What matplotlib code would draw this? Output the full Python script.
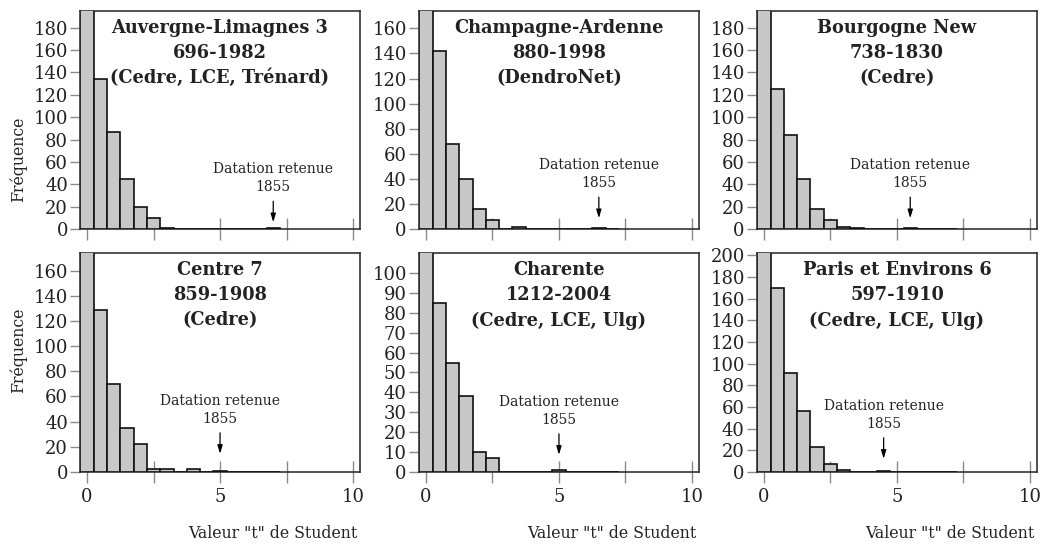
import matplotlib
matplotlib.use("Agg")
import matplotlib.pyplot as plt
from matplotlib.transforms import offset_copy

# bin centres of the "t" histogram (width 0.5)
bins = [0.0, 0.5, 1.0, 1.5, 2.0, 2.5, 3.0, 3.5, 4.0, 4.5, 5.0, 5.5, 6.0, 6.5, 7.0]

titles = [
    "Auvergne-Limagnes 3\n696-1982\n(Cedre, LCE, Trénard)",
    "Champagne-Ardenne\n880-1998\n(DendroNet)",
    "Bourgogne New\n738-1830\n(Cedre)",
    "Centre 7\n859-1908\n(Cedre)",
    "Charente\n1212-2004\n(Cedre, LCE, Ulg)",
    "Paris et Environs 6\n597-1910\n(Cedre, LCE, Ulg)",
]

auvergne = [240, 134, 87, 45, 20, 10, 1, 0, 0, 0, 0, 0, 0, 0, 1]
champagne = [210, 142, 68, 40, 16, 7, 0, 2, 0, 0, 0, 0, 0, 1, 0]
bourgogne = [230, 125, 84, 45, 18, 8, 2, 1, 0, 0, 0, 1, 0, 0, 0]
centre = [200, 129, 70, 35, 22, 2, 2, 0, 2, 0, 1, 0, 0, 0, 0]
charente = [130, 85, 55, 38, 10, 7, 0, 0, 0, 0, 1, 0, 0, 0, 0]
paris = [250, 170, 91, 56, 23, 7, 2, 0, 0, 1, 0, 0, 0, 0, 0]
counts = [auvergne, champagne, bourgogne, centre, charente, paris]

# t value of the retained dating (1855) in each panel
retained_t = [7.0, 6.5, 5.5, 5.0, 5.0, 4.5]
retained_label = "Datation retenue\n1855"

y_max = [195, 174, 195, 174, 110, 202]
y_step = [20, 20, 20, 20, 10, 20]
y_top_tick = [180, 160, 180, 160, 100, 200]

# layout (pixels)
W, H = 1041, 554
col_left = [80.4, 419.3, 757.3]
ax_w = 279.3
row_top = [10.7, 253.3]
ax_h = 218.5
arrow_gap = [7, 11, 11, 18, 17, 13]
ylabel_y = [0.32, 0.557]

plt.rcParams['font.family'] = ['DejaVu Serif']
fig = plt.figure(figsize=(W / 100, H / 100), dpi=100)

for i in range(6):
    r, c = divmod(i, 3)
    rect = [col_left[c] / W, 1 - (row_top[r] + ax_h) / H, ax_w / W, ax_h / H]
    ax = fig.add_axes(rect)

    ax.bar(bins, counts[i], width=0.5, color='#c8c8c8', edgecolor='#111111',
           linewidth=1.2, zorder=3)
    ax.set_xlim(-0.25, 10.25)
    ax.set_ylim(0, y_max[i])

    ax.set_xticks([0, 2.5, 5, 7.5, 10])
    if r == 1:
        ax.set_xticklabels(['0', '', '5', '', '10'])
    else:
        ax.set_xticklabels([])
    ax.set_yticks(list(range(0, y_top_tick[i] + 1, y_step[i])))

    ax.tick_params(axis='x', direction='inout', length=16, width=1,
                   color='#8a8a8a', labelsize=13, pad=4, labelcolor='#222222')
    ax.tick_params(axis='y', direction='out', length=7, width=1,
                   color='#8a8a8a', labelsize=13, pad=2, labelcolor='#222222')
    for s in ax.spines.values():
        s.set_color('#333333')
        s.set_linewidth(1.2)

    ax.text(0.5, 1 - 8 / ax_h, titles[i], transform=ax.transAxes, ha='center',
            va='top', fontsize=12.8, fontweight='bold', linespacing=1.5,
            color='#222222')

    tr = offset_copy(ax.transData, fig=fig, x=0, y=arrow_gap[i], units='dots')
    ax.annotate('', xy=(retained_t[i], 0), xycoords=tr, xytext=(0, 21),
                textcoords='offset pixels',
                arrowprops=dict(arrowstyle='-|>,head_length=0.5,head_width=0.15',
                                color='black', lw=0.9, shrinkA=0, shrinkB=0))
    ax.annotate(retained_label, xy=(retained_t[i], 0), xycoords=tr,
                xytext=(0, 28), textcoords='offset pixels', ha='center',
                va='bottom', fontsize=10, linespacing=1.35, color='#222222')

    if c == 0:
        ax.set_ylabel('Fréquence', fontsize=11.3, color='#222222')
        ax.yaxis.set_label_coords(-0.19, ylabel_y[r])
    if r == 1:
        ax.set_xlabel('Valeur "t" de Student', fontsize=11.3, color='#222222')
        ax.xaxis.set_label_coords(0.69, -0.245)

fig.savefig('out.png', dpi=100)
